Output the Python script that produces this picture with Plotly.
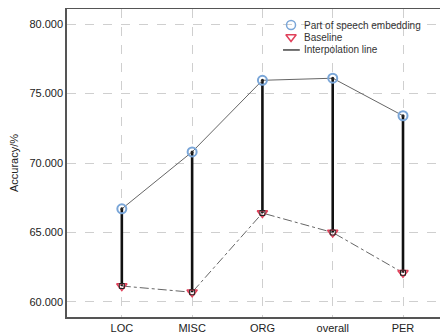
import plotly.graph_objects as go

categories = ["LOC", "MISC", "ORG", "overall", "PER"]
pos_embedding = [66.7, 70.8, 75.95, 76.1, 73.4]
baseline = [61.15, 60.7, 66.4, 65.0, 62.1]
y_ticks = [60, 65, 70, 75, 80]
y_tick_labels = ["60.000", "65.000", "70.000", "75.000", "80.000"]
legend_labels = ["Part of speech embedding", "Baseline", "Interpolation line"]

xi = list(range(len(categories)))
POS_COLOR = "#7aa6d8"
BASE_COLOR = "#e0405a"

fig = go.Figure()

# vertical connectors
vx, vy = [], []
for i in xi:
    vx += [i, i, None]
    vy += [pos_embedding[i], baseline[i], None]
fig.add_trace(go.Scatter(x=vx, y=vy, mode="lines", line=dict(color="#111111", width=2.6),
                         showlegend=False, hoverinfo="skip"))

fig.add_trace(go.Scatter(x=xi, y=baseline, mode="lines",
                         line=dict(color="#666666", width=1, dash="dashdot"), showlegend=False))
fig.add_trace(go.Scatter(x=xi, y=pos_embedding, mode="lines",
                         line=dict(color="#666666", width=1), showlegend=False))

fig.add_trace(go.Scatter(x=xi, y=pos_embedding, mode="markers", name=legend_labels[0], showlegend=False,
                         marker=dict(symbol="circle-open", size=9, color=POS_COLOR, line=dict(width=2))))
fig.add_trace(go.Scatter(x=xi, y=baseline, mode="markers", name=legend_labels[1], showlegend=False,
                         marker=dict(symbol="triangle-down-open", size=9, color=BASE_COLOR, line=dict(width=1.5))))
fig.add_trace(go.Scatter(x=xi, y=pos_embedding, mode="markers", showlegend=False,
                         marker=dict(symbol="circle", size=3, color="#222222")))
fig.add_trace(go.Scatter(x=xi, y=baseline, mode="markers", showlegend=False,
                         marker=dict(symbol="square-open", size=5, color="#222222", line=dict(width=1))))

# manual compact legend on an overlay axis (0..1)
ly = [0.948, 0.909, 0.867]
lx_sym = 0.588
lx_txt = 0.616
fig.add_trace(go.Scatter(x=[lx_sym], y=[ly[0]], xaxis="x2", yaxis="y2", mode="markers", showlegend=False,
                         marker=dict(symbol="circle-open", size=9, color=POS_COLOR, line=dict(width=1.5))))
fig.add_trace(go.Scatter(x=[lx_sym], y=[ly[1]], xaxis="x2", yaxis="y2", mode="markers", showlegend=False,
                         marker=dict(symbol="triangle-down-open", size=9, color=BASE_COLOR, line=dict(width=1.5))))
fig.add_trace(go.Scatter(x=[0.567, 0.611], y=[ly[2], ly[2]], xaxis="x2", yaxis="y2", mode="lines",
                         showlegend=False, line=dict(color="#444444", width=1.5)))
for t, yy in zip(legend_labels, ly):
    fig.add_annotation(x=lx_txt, y=yy, xref="x2", yref="y2", text=t, showarrow=False,
                       xanchor="left", yanchor="middle", font=dict(size=10, color="#333333"))

# page has an 8px body margin, so the figure is 8px smaller on each axis
fig.update_layout(
    width=440, height=325,
    margin=dict(l=59, r=0, t=1, b=16),
    paper_bgcolor="white", plot_bgcolor="white",
    font=dict(family="Liberation Sans, Arial, sans-serif", size=11, color="#333333"),
    showlegend=False,
    xaxis=dict(tickmode="array", tickvals=xi, ticktext=categories, range=[-0.78, 4.64],
               showgrid=True, gridcolor="#cfcfcf", griddash="dash", gridwidth=1,
               showline=True, linecolor="#555555", linewidth=1.5, mirror=True, automargin=False,
               ticks="", zeroline=False, tickfont=dict(size=11, color="#222222")),
    yaxis=dict(tickmode="array", tickvals=y_ticks, ticktext=y_tick_labels, range=[58.92, 81.08],
               showgrid=True, gridcolor="#cfcfcf", griddash="dash", gridwidth=1,
               showline=True, linecolor="#555555", linewidth=1.5, automargin=False,
               ticks="", zeroline=False, tickfont=dict(size=11, color="#222222"),
               title=dict(text="Accuracy/%", font=dict(size=11, color="#222222"), standoff=10)),
    xaxis2=dict(overlaying="x", range=[0, 1], visible=False, fixedrange=True),
    yaxis2=dict(overlaying="y", range=[0, 1], visible=False, fixedrange=True),
)

fig.write_html("out.html")
